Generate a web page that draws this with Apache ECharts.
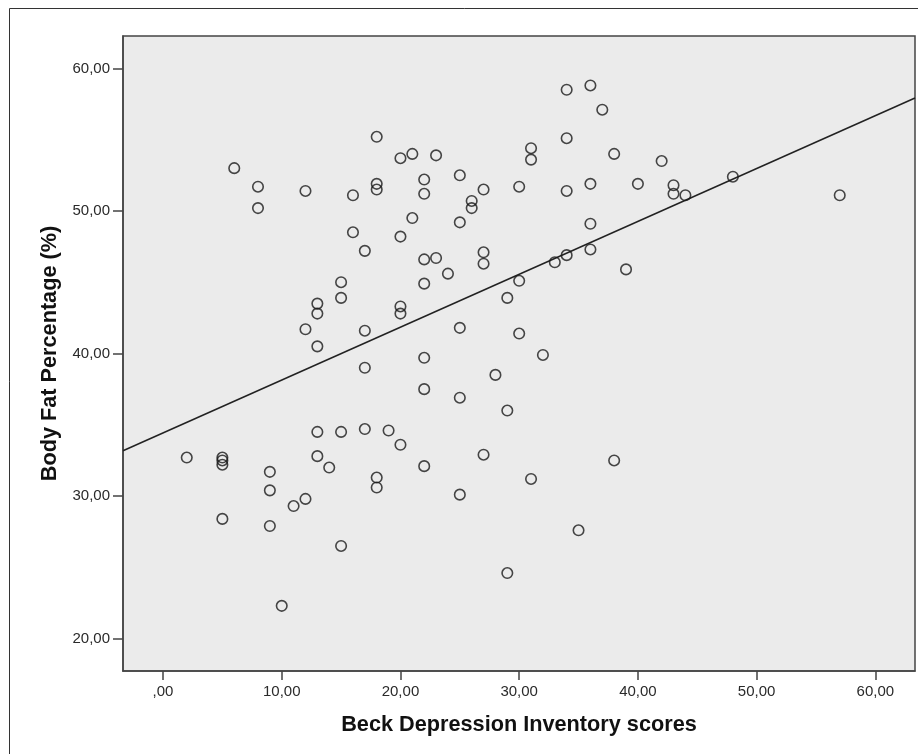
<!DOCTYPE html>
<html>
<head>
<meta charset="utf-8">
<script src="https://cdn.jsdelivr.net/npm/echarts@6/dist/echarts.min.js"></script>
<style>
html,body{margin:0;padding:0;background:#fff;}
#chart{width:918px;height:754px;}
</style>
</head>
<body>
<div id="chart"></div>
<script>
// Beck Depression Inventory scores (x) and Body Fat Percentage (y), paired
const bdiScores = [
  2,
  5,5,5,5,
  6,
  8,8,
  9,9,9,
  10,
  11,
  12,12,12,
  13,13,13,13,13,
  14,
  15,15,15,15,
  16,16,
  17,17,17,17,
  18,18,18,18,18,
  19,
  20,20,20,20,20,
  21,21,
  22,22,22,22,22,22,22,
  23,23,
  24,
  25,25,25,25,25,
  26,26,
  27,27,27,27,
  28,
  29,29,29,
  30,30,30,
  31,31,31,
  32,
  33,
  34,34,34,34,
  35,
  36,36,36,36,
  37,
  38,38,
  39,
  40,
  42,
  43,43,
  44,
  48,
  57
];
const bodyFat = [
  32.7,
  32.7,32.5,32.2,28.4,
  53.0,
  51.7,50.2,
  31.7,30.4,27.9,
  22.3,
  29.3,
  51.4,41.7,29.8,
  43.5,42.8,40.5,34.5,32.8,
  32.0,
  45.0,43.9,34.5,26.5,
  51.1,48.5,
  47.2,41.6,39.0,34.7,
  55.2,51.9,51.5,31.3,30.6,
  34.6,
  53.7,48.2,43.3,42.8,33.6,
  54.0,49.5,
  52.2,51.2,46.6,44.9,39.7,37.5,32.1,
  53.9,46.7,
  45.6,
  52.5,49.2,41.8,36.9,30.1,
  50.7,50.2,
  51.5,47.1,46.3,32.9,
  38.5,
  43.9,36.0,24.6,
  51.7,45.1,41.4,
  54.4,53.6,31.2,
  39.9,
  46.4,
  58.5,55.1,51.4,46.9,
  27.6,
  58.8,51.9,49.1,47.3,
  57.1,
  54.0,32.5,
  45.9,
  51.9,
  53.5,
  51.8,51.2,
  51.1,
  52.4,
  51.1
];
// Fit line: bodyFat = fitIntercept + fitSlope * bdi
const fitIntercept = 34.43;
const fitSlope = 0.3709;
const xTicks = [0,10,20,30,40,50,60];
const yTicks = [20,30,40,50,60];
const xRange = [-3.37, 63.34];
const yRange = [17.73, 62.27];
const xTitle = 'Beck Depression Inventory scores';
const yTitle = 'Body Fat Percentage (%)';

function fmt(v){
  let s = Number(v).toFixed(2).replace('.', ',');
  if (s.indexOf('0,') === 0) s = s.substring(1);
  return s;
}

const points = bdiScores.map((x,i)=>[x, bodyFat[i]]);
const fitLine = [
  [xRange[0], fitIntercept + fitSlope*xRange[0]],
  [xRange[1], fitIntercept + fitSlope*xRange[1]]
];

const FONT = '"Liberation Sans", Arial, Helvetica, sans-serif';
const chart = echarts.init(document.getElementById('chart'), null, {renderer:'canvas'});
chart.setOption({
  animation:false,
  backgroundColor:'#ffffff',
  textStyle:{fontFamily:FONT},
  graphic:[{
    type:'rect', silent:true, z:-10,
    shape:{x:9.5, y:8.5, width:1000, height:1000},
    style:{fill:'none', stroke:'#333', lineWidth:1}
  }],
  grid:{
    left:123, top:36, right:3, bottom:83,
    show:true, backgroundColor:'#EBEBEB', borderColor:'#444', borderWidth:1.5
  },
  xAxis:{
    type:'value', min:xRange[0], max:xRange[1],
    name:xTitle, nameLocation:'middle', nameGap:43,
    nameTextStyle:{fontFamily:FONT, fontWeight:'bold', fontSize:21.7, color:'#111'},
    axisLine:{show:true, onZero:false, lineStyle:{color:'#444', width:1.5}},
    axisTick:{show:true, length:9, lineStyle:{color:'#444', width:1.5}, customValues:xTicks},
    axisLabel:{customValues:xTicks, formatter:fmt, fontSize:15, color:'#2a2a2a', margin:13, fontFamily:FONT},
    splitLine:{show:false}
  },
  yAxis:{
    type:'value', min:yRange[0], max:yRange[1],
    name:yTitle, nameLocation:'middle', nameGap:62, nameRotate:90,
    nameTextStyle:{fontFamily:FONT, fontWeight:'bold', fontSize:21.7, color:'#111'},
    axisLine:{show:true, onZero:false, lineStyle:{color:'#444', width:1.5}},
    axisTick:{show:true, length:10, lineStyle:{color:'#444', width:1.5}, customValues:yTicks},
    axisLabel:{customValues:yTicks, formatter:fmt, fontSize:15, color:'#2a2a2a', margin:13, fontFamily:FONT},
    splitLine:{show:false}
  },
  series:[
    {
      type:'line', data:fitLine, symbol:'none', silent:true,
      lineStyle:{color:'#222', width:1.5}, z:2
    },
    {
      type:'scatter', data:points, symbol:'circle', symbolSize:10.5,
      itemStyle:{color:'rgba(0,0,0,0)', borderColor:'#1a1a1a', borderWidth:1.6},
      z:3
    }
  ]
});
</script>
</body>
</html>
